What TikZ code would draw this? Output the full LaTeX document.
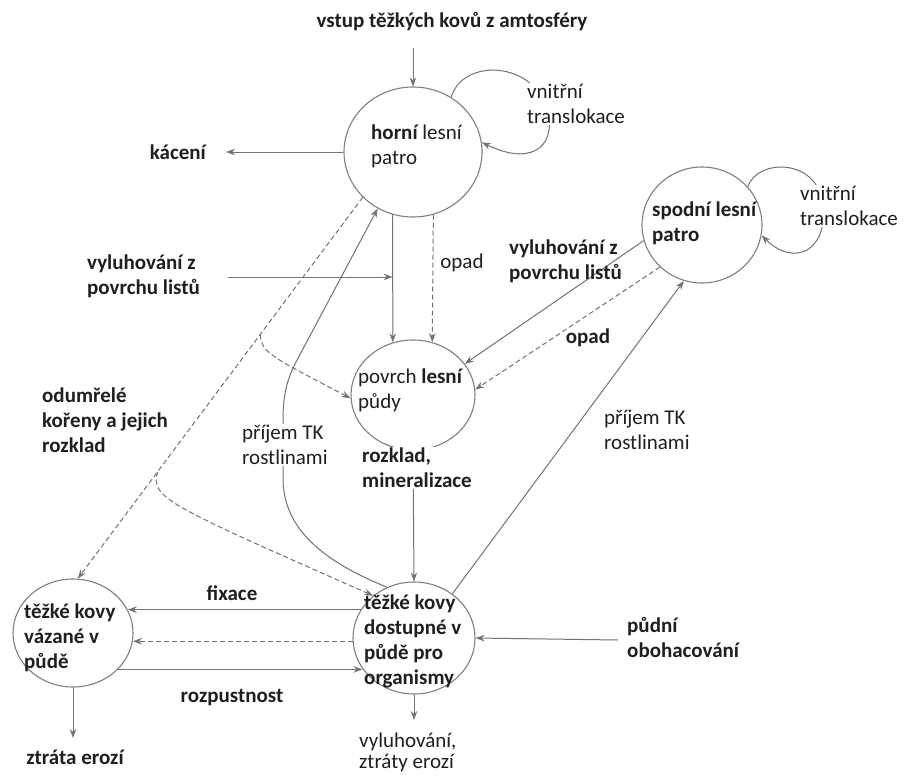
\documentclass[tikz,border=0pt]{standalone}
\usepackage{fontspec}
\setmainfont{Carlito}
\usetikzlibrary{arrows.meta,shapes.geometric,calc}
\tikzset{
  txt/.style={font=\fontsize{21}{25}\selectfont\bfseries, text=black!88, inner sep=0pt, align=left},
  txtr/.style={txt, font=\fontsize{21}{25}\selectfont\mdseries},
  circ/.style={draw=black!50, line width=1.1pt, ellipse, inner sep=0pt},
  flow/.style={draw=black!55, line width=1pt, -{Stealth[length=9pt,width=6.5pt]}},
  dsh/.style={flow, dash pattern=on 5pt off 3pt},
}
\begin{document}
\begin{tikzpicture}[x=1pt,y=-1pt]
\useasboundingbox[fill=white] (0,0) rectangle (924,779);

% circles
\node[circ, minimum width=138, minimum height=130] (H) at (413,152) {};
\node[circ, minimum width=120, minimum height=116] (S) at (702,225) {};
\node[circ, minimum width=124, minimum height=110] (P) at (413,395) {};
\node[circ, minimum width=120, minimum height=108] (V) at (73,633) {};
\node[circ, minimum width=122, minimum height=112] (D) at (414,638) {};

% circle texts
\node[txt, anchor=west] (Ht) at (371,146) {horní \mdseries lesní\\\mdseries patro};
\node[txt, anchor=west] (St) at (652,223) {spodní lesní\\patro};
\node[txt, anchor=west] (Pt) at (358,390) {\mdseries povrch \bfseries lesní\\\mdseries půdy};
\node[txt, anchor=west] (Vt) at (24,638) {těžké kovy\\vázané v\\půdě};
\node[txt, anchor=west] (Dt) at (364,641) {těžké kovy\\dostupné v\\půdě pro\\organismy};

% input from atmosphere
\node[txt] (top) at (452,22) {vstup těžkých kovů z amtosféry};
\coordinate (topin) at (413,48);
\draw[flow] (topin) -- (H.north);

% kaceni
\coordinate (kacend) at (226,152);
\draw[flow] (H.west) -- (kacend);
\node[txt, anchor=east] (kac) at (206,152) {kácení};

% internal loops
\draw[flow] (H.55) .. controls (462,58) and (535,60) .. (548,112) .. controls (556,150) and (528,165) .. (H.8);
\node[txtr, anchor=west, fill=white, inner sep=1pt] (Hl) at (526,104) {vnitřní\\translokace};
\draw[flow] (S.40) .. controls (758,158) and (818,158) .. (823,205) .. controls (828,250) and (795,268) .. (S.-10);
\node[txtr, anchor=west, fill=white, inner sep=1pt] (Sl) at (799,206) {vnitřní\\translokace};

% upper canopy to forest floor
\draw[flow] (H.252) -- (P.111);
\draw[dsh] (H.288) -- (P.70);
\node[txtr] (op1) at (462,263) {opad};

% leaching from the left
\coordinate (vl) at (228,277);
\draw[flow] (vl) -- (H.252 |- vl);
\node[txt, anchor=west] (vyl1) at (87,276) {vyluhování z\\povrchu listů};

% long dashed line (dead roots) with branches
\draw[dsh] (H.222) -- coordinate[pos=0.36] (ba) coordinate[pos=0.72] (bb) (V.85);
\draw[dsh] (ba) .. controls (262,353) and (270,356) .. (P.183);
\draw[dsh] (bb) .. controls (150,498) and (168,505) .. (D.134);
\node[txt, anchor=west] (odu) at (42,420) {odumřelé\\kořeny a jejich\\rozklad};

% uptake by plants (left)
\draw[flow] (D.118) .. controls (325,562) and (283,530) .. (283,478) -- (283,420) .. controls (283,392) and (288,378) .. (296,362) -- (H.238);
\node[txtr, anchor=west, fill=white, inner sep=1pt] (pr1) at (241,445) {příjem TK\\rostlinami};

% uptake by plants (right)
\draw[flow] (D.49) -- (S.252);
\node[txtr, anchor=west] (pr2) at (604,430) {příjem TK\\rostlinami};

% lower canopy to forest floor
\draw[flow] (S.195) -- (P.31);
\draw[dsh] (S.225) -- (P.5);
\node[txt, anchor=west] (vyl2) at (509,261) {vyluhování z\\povrchu listů};
\node[txt] (op2) at (588,338) {opad};

% forest floor to available metals
\draw[flow] (P.south) -- (D.north);
\node[txt, anchor=west, fill=white, inner sep=1pt] (rozk) at (361,468) {rozklad,\\mineralizace};

% fixation / solubility
\draw[flow] (D.152) -- (V.23 |- D.152);
\draw[dsh] (D.183) -- (V.-7 |- D.183);
\draw[flow] (V.-39) -- (D.211 |- V.-39);
\node[txt] (fix) at (232,593) {fixace};
\node[txt] (roz) at (232,698) {rozpustnost};

% losses
\coordinate (Dd) at (414,720);
\draw[flow] (D.south) -- (Dd);
\node[txtr, anchor=west, font=\fontsize{21}{21}\selectfont\mdseries] (vyl3) at (359,752) {vyluhování,\\ztráty erozí};
\coordinate (Vd) at (73,738);
\draw[flow] (V.south) -- (Vd);
\node[txt] (ztr) at (75,757) {ztráta erozí};

% soil enrichment
\coordinate (po) at (618,640);
\draw[flow] (po) -- (D.east);
\node[txt, anchor=west] (pud) at (627,637) {půdní\\obohacování};
\end{tikzpicture}
\end{document}
